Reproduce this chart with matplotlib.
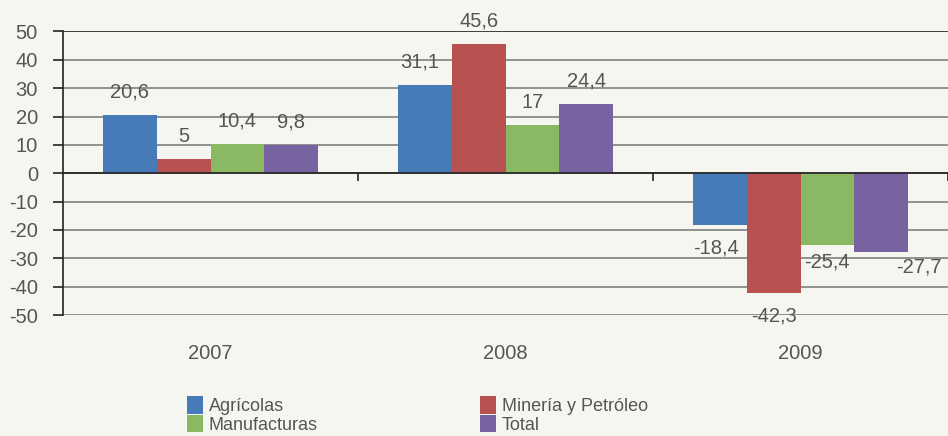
import numpy as np
import matplotlib.pyplot as plt

plt.rcParams['font.family'] = ['Liberation Sans', 'DejaVu Sans']
plt.rcParams['axes.unicode_minus'] = False

years = ['2007', '2008', '2009']
series = ['Agrícolas', 'Minería y Petróleo', 'Manufacturas', 'Total']
agricolas = [20.6, 31.1, -18.4]
mineria = [5, 45.6, -42.3]
manufacturas = [10.4, 17, -25.4]
total = [9.8, 24.4, -27.7]
colors = ['#467ab8', '#b85250', '#8bb862', '#7862a0']

bg = '#f6f6f1'
txt = '#555555'
fs = 14.5

fig = plt.figure(figsize=(9.48, 4.36), dpi=100, facecolor=bg)
ax = fig.add_axes([63/948, 1-315/436, 1-63/948, (315-31.5)/436])
ax.set_facecolor(bg)

x = np.arange(len(years))
w = 0.73 / 4
values = [agricolas, mineria, manufacturas, total]

# label nudges (px) where the original moved labels to avoid overlap
nudge = {(0, 1): (-5, 0), (0, 2): (-4, 0), (2, 2): (0, 6), (3, 2): (38, 8)}

for i, (vals, c) in enumerate(zip(values, colors)):
    xs = x - 1.5*w + i*w
    ax.bar(xs, vals, width=w, color=c, zorder=3, label=series[i])
    for j, (xx, v) in enumerate(zip(xs, vals)):
        dx, dy = nudge.get((i, j), (0, 0))
        off = 23 if v >= 0 else -23
        lab = f"{v:g}".replace('.', ',')
        ax.annotate(lab, (xx, v), xytext=(dx*0.72, (off + dy)*0.72),
                    textcoords='offset points', ha='center', va='center',
                    fontsize=fs, color=txt, zorder=4)

ax.set_ylim(-50, 50)
ax.set_xlim(-0.5, 2.5)
ax.set_yticks(np.arange(-50, 51, 10))
ax.yaxis.grid(True, color='#808080', lw=1.2, zorder=0)
ax.axhline(0, color='#222222', lw=1.2, zorder=3.5)
ax.axhline(50, color='#333333', lw=1.2, zorder=3.5)

for s in ['top', 'right', 'bottom']:
    ax.spines[s].set_visible(False)
ax.spines['left'].set_color('#222222')
ax.spines['left'].set_linewidth(1.2)

ax.tick_params(axis='y', length=7, width=1.2, color='#222222', labelsize=fs,
               labelcolor=txt, pad=11)
ax.set_xticks(x)
ax.set_xticklabels(years)
ax.tick_params(axis='x', length=0, labelsize=fs, labelcolor=txt, pad=21)

# category separators on the zero line
ax.vlines([0.5, 1.5, 2.5], 0, -2.8, color='#222222', lw=1.2, zorder=4, clip_on=False)

handles, labels = ax.get_legend_handles_labels()
order = [0, 2, 1, 3]
leg = fig.legend([handles[k] for k in order], [labels[k] for k in order],
                 ncol=2, loc='lower left', bbox_to_anchor=(176/948, -0.02),
                 frameon=False, fontsize=13, handlelength=0.9, handleheight=1.1,
                 handletextpad=0.3, labelspacing=0.0, columnspacing=9.0,
                 labelcolor=txt, borderaxespad=0.2)

fig.savefig('out.png', dpi=100, facecolor=bg)
